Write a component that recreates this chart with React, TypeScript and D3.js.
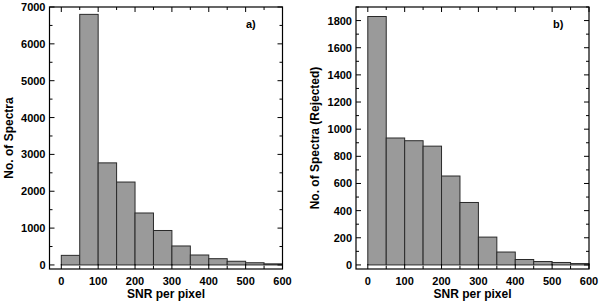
import React from "react";
import * as d3 from "d3";

const binStarts = [0, 50, 100, 150, 200, 250, 300, 350, 400, 450, 500, 550];
const binWidth = 50;
const countsA = [260, 6800, 2770, 2250, 1410, 935, 515, 270, 170, 100, 60, 30];
const countsB = [1830, 935, 915, 875, 655, 460, 205, 95, 40, 25, 18, 10];
const xTicks = [0, 100, 200, 300, 400, 500, 600];
const yTicksA = [0, 1000, 2000, 3000, 4000, 5000, 6000, 7000];
const yTicksB = [0, 200, 400, 600, 800, 1000, 1200, 1400, 1600, 1800];

const FONT = "'Liberation Sans', Arial, Helvetica, sans-serif";

type PanelProps = {
  left: number;
  right: number;
  top: number;
  bottom: number;
  yDomain: [number, number];
  counts: number[];
  yTicks: number[];
  yMinorStep: number;
  yTitle: string;
  yTitleX: number;
  label: string;
  labelX: number;
};

function Panel(p: PanelProps) {
  const x = d3.scaleLinear().domain([-32, 600]).range([p.left, p.right]);
  const y = d3.scaleLinear().domain(p.yDomain).range([p.bottom, p.top]);
  const xMinor = d3.range(0, 601, 50).filter((v) => v % 100 !== 0);
  const yMinor = d3
    .range(0, p.yDomain[1] + 1, p.yMinorStep)
    .filter((v) => !p.yTicks.includes(v));
  const maj = 5;
  const min = 3;
  return (
    <g>
      {binStarts.map((b, i) => (
        <rect
          key={i}
          x={x(b)}
          y={y(p.counts[i])}
          width={x(b + binWidth) - x(b)}
          height={y(0) - y(p.counts[i])}
          fill="#9a9a9a"
          stroke="#2a2a2a"
          strokeWidth={1}
        />
      ))}
      <rect
        x={p.left}
        y={p.top}
        width={p.right - p.left}
        height={p.bottom - p.top}
        fill="none"
        stroke="#000"
        strokeWidth={1.2}
      />
      {/* x ticks bottom and top */}
      {xTicks.map((t) => (
        <g key={"xt" + t}>
          <line x1={x(t)} x2={x(t)} y1={p.bottom} y2={p.bottom - maj} stroke="#000" />
          <line x1={x(t)} x2={x(t)} y1={p.top} y2={p.top + maj} stroke="#000" />
          <text
            x={x(t)}
            y={285}
            textAnchor="middle"
            fontFamily={FONT}
            fontWeight="bold"
            fontSize={11}
          >
            {t}
          </text>
        </g>
      ))}
      {xMinor.map((t) => (
        <g key={"xm" + t}>
          <line x1={x(t)} x2={x(t)} y1={p.bottom} y2={p.bottom - min} stroke="#000" />
          <line x1={x(t)} x2={x(t)} y1={p.top} y2={p.top + min} stroke="#000" />
        </g>
      ))}
      {p.yTicks.map((t) => (
        <g key={"yt" + t}>
          <line x1={p.left} x2={p.left + maj} y1={y(t)} y2={y(t)} stroke="#000" />
          <line x1={p.right} x2={p.right - maj} y1={y(t)} y2={y(t)} stroke="#000" />
          <text
            x={p.left - 4}
            y={y(t) + 4}
            textAnchor="end"
            fontFamily={FONT}
            fontWeight="bold"
            fontSize={11}
          >
            {t}
          </text>
        </g>
      ))}
      {yMinor.map((t) => (
        <g key={"ym" + t}>
          <line x1={p.left} x2={p.left + min} y1={y(t)} y2={y(t)} stroke="#000" />
          <line x1={p.right} x2={p.right - min} y1={y(t)} y2={y(t)} stroke="#000" />
        </g>
      ))}
      <text
        x={(p.left + p.right) / 2}
        y={298}
        textAnchor="middle"
        fontFamily={FONT}
        fontWeight="bold"
        fontSize={12}
      >
        SNR per pixel
      </text>
      <text
        transform={`translate(${p.yTitleX},${(p.top + p.bottom) / 2}) rotate(-90)`}
        textAnchor="middle"
        fontFamily={FONT}
        fontWeight="bold"
        fontSize={12}
      >
        {p.yTitle}
      </text>
      <text x={p.labelX} y={28} fontFamily={FONT} fontWeight="bold" fontSize={11}>
        {p.label}
      </text>
    </g>
  );
}

export default function App() {
  return (
    <svg
      width={600}
      height={304}
      style={{ position: "absolute", left: 0, top: 0, background: "#fff" }}
    >
      <rect x={0} y={0} width={600} height={304} fill="#fff" />
      <Panel
        left={49.5}
        right={282.5}
        top={7}
        bottom={269}
        yDomain={[-110, 7000]}
        counts={countsA}
        yTicks={yTicksA}
        yMinorStep={500}
        yTitle="No. of Spectra"
        yTitleX={13}
        label="a)"
        labelX={246}
      />
      <Panel
        left={356}
        right={589}
        top={7}
        bottom={269}
        yDomain={[-30, 1900]}
        counts={countsB}
        yTicks={yTicksB}
        yMinorStep={100}
        yTitle="No. of Spectra (Rejected)"
        yTitleX={319}
        label="b)"
        labelX={553}
      />
    </svg>
  );
}
